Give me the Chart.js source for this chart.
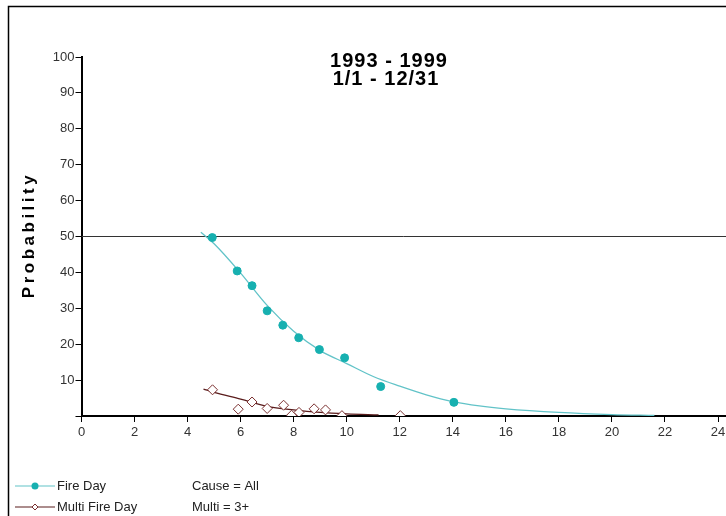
<!DOCTYPE html>
<html>
<head>
<meta charset="utf-8">
<script src="https://cdn.jsdelivr.net/npm/chart.js@4/dist/chart.umd.min.js"></script>
<style>
  html, body { margin: 0; padding: 0; background: #fff; overflow: hidden; }
  canvas { display: block; }
</style>
</head>
<body>
<canvas id="myChart" width="726" height="516"></canvas>
<script>
// observed points
const fireX = [4.93, 5.87, 6.43, 7.0, 7.59, 8.19, 8.97, 9.92, 11.28, 14.04];
const fireY = [49.7, 40.4, 36.3, 29.3, 25.3, 21.8, 18.5, 16.2, 8.2, 3.8];
const multiX = [4.94, 5.91, 6.43, 7.0, 7.62, 7.92, 8.2, 8.77, 9.2, 9.82, 12.02];
const multiY = [7.3, 1.9, 3.9, 2.1, 3.0, 0.2, 1.0, 2.0, 1.7, 0.1, 0.1];

// fitted curves
const fireFitX = [4.5, 5, 6, 7, 8, 9, 10, 11, 12, 13, 14, 15, 16, 18, 20, 21.6];
const fireFitY = [51.2, 48.0, 39.8, 30.8, 23.6, 18.2, 14.6, 11.0, 8.3, 5.9, 4.0, 2.8, 2.0, 1.0, 0.4, 0.15];
const multiFitX = [4.6, 5, 6, 7, 8, 9, 10, 11.2];
const multiFitY = [7.5, 6.6, 4.7, 2.7, 1.7, 1.0, 0.6, 0.3];

const refX = [0, 24.3];
const refY = [50, 50];

const xTicks = [0, 2, 4, 6, 8, 10, 12, 14, 16, 18, 20, 22, 24];
const yTicks = [0, 10, 20, 30, 40, 50, 60, 70, 80, 90, 100];

const titleLines = ['1993 - 1999', '1/1 - 12/31'];
const legendNames = ['Fire Day', 'Multi Fire Day'];
const legendNotes = ['Cause = All', 'Multi = 3+'];

const pts = (xs, ys) => xs.map((x, i) => ({ x: x, y: ys[i] }));

const FIRE = '#17b0b0';
const FIRE_LINE = '#62c3c8';
const MULTI = '#7a2f2f';
const MULTI_LINE = '#5a1c1c';
const FONT = "'Liberation Sans', Arial, sans-serif";

const extras = {
    id: 'extras',
    afterDraw(chart) {
        const ctx = chart.ctx;
        ctx.save();

        // frame
        ctx.strokeStyle = '#000';
        ctx.lineWidth = 1.5;
        ctx.beginPath();
        ctx.moveTo(8.5, 516);
        ctx.lineTo(8.5, 6.5);
        ctx.lineTo(726, 6.5);
        ctx.stroke();

        // title
        ctx.fillStyle = '#000';
        ctx.font = 'bold 20px ' + FONT;
        ctx.textAlign = 'center';
        ctx.textBaseline = 'middle';
        ctx.letterSpacing = '1px';
        ctx.fillText(titleLines[0], 389, 61);
        ctx.fillText(titleLines[1], 386, 79);

        // y title
        ctx.save();
        ctx.translate(29, 235);
        ctx.rotate(-Math.PI / 2);
        ctx.font = 'bold 17px ' + FONT;
        ctx.letterSpacing = '3.5px';
        ctx.fillText('Probability', 0, 0);
        ctx.restore();
        ctx.letterSpacing = '0px';

        // legend
        ctx.font = '13px ' + FONT;
        ctx.textAlign = 'left';
        const rows = [486, 507];
        const cols = [FIRE_LINE, MULTI_LINE];
        rows.forEach((y, i) => {
            ctx.strokeStyle = cols[i];
            ctx.lineWidth = 1.2;
            ctx.beginPath();
            ctx.moveTo(15, y);
            ctx.lineTo(55, y);
            ctx.stroke();
            if (i === 0) {
                ctx.fillStyle = FIRE;
                ctx.beginPath();
                ctx.arc(35, y, 3.5, 0, Math.PI * 2);
                ctx.fill();
            } else {
                ctx.fillStyle = '#fff';
                ctx.strokeStyle = MULTI;
                ctx.lineWidth = 1;
                ctx.beginPath();
                ctx.moveTo(35, y - 3);
                ctx.lineTo(38, y);
                ctx.lineTo(35, y + 3);
                ctx.lineTo(32, y);
                ctx.closePath();
                ctx.fill();
                ctx.stroke();
            }
            ctx.fillStyle = '#222';
            ctx.fillText(legendNames[i], 57, y);
            ctx.fillText(legendNotes[i], 192, y);
        });

        ctx.restore();
    }
};

const ctx = document.getElementById('myChart').getContext('2d');

new Chart(ctx, {
    type: 'scatter',
    data: {
        datasets: [
            {
                label: 'Fire Day',
                data: pts(fireX, fireY),
                backgroundColor: FIRE,
                borderColor: FIRE,
                pointRadius: 4,
                showLine: false,
                order: 0
            },
            {
                label: 'Multi Fire Day',
                data: pts(multiX, multiY),
                backgroundColor: '#fff',
                borderColor: MULTI,
                borderWidth: 1,
                pointStyle: 'rectRot',
                pointRadius: 5,
                showLine: false,
                order: 0
            },
            {
                label: 'Fire Day fit',
                data: pts(fireFitX, fireFitY),
                borderColor: FIRE_LINE,
                borderWidth: 1.3,
                pointRadius: 0,
                showLine: true,
                cubicInterpolationMode: 'monotone',
                order: 1
            },
            {
                label: 'Multi Fire Day fit',
                data: pts(multiFitX, multiFitY),
                borderColor: MULTI_LINE,
                borderWidth: 1.3,
                pointRadius: 0,
                showLine: true,
                cubicInterpolationMode: 'monotone',
                order: 1
            },
            {
                label: '50%',
                data: pts(refX, refY),
                borderColor: '#333',
                borderWidth: 1,
                pointRadius: 0,
                showLine: true,
                order: 2
            }
        ]
    },
    options: {
        responsive: false,
        animation: false,
        layout: {
            autoPadding: false, // otherwise the marker size eats 6px on the right
            padding: { left: 0, right: 0, top: 57, bottom: 70 }
        },
        scales: {
            x: {
                type: 'linear',
                min: 0,
                max: 24.3,
                afterBuildTicks: function(axis) {
                    axis.ticks = xTicks.map(v => ({ value: v }));
                },
                afterFit: function(axis) {
                    axis.height = 30;
                    axis.paddingLeft = 0;
                    axis.paddingRight = 0;
                },
                grid: {
                    drawOnChartArea: false,
                    color: '#000',
                    tickLength: 6
                },
                border: { color: '#000', width: 2 },
                ticks: {
                    color: '#333',
                    padding: 3,
                    maxRotation: 0,
                    autoSkip: false,
                    font: { family: FONT, size: 13 }
                }
            },
            y: {
                min: 0,
                max: 100,
                afterBuildTicks: function(axis) {
                    axis.ticks = yTicks.map(v => ({ value: v }));
                },
                afterFit: function(axis) {
                    axis.width = 81.5;
                    axis.paddingTop = 0;
                    axis.paddingBottom = 0;
                },
                grid: {
                    drawOnChartArea: false,
                    color: '#000',
                    tickLength: 6
                },
                border: { color: '#000', width: 2 },
                ticks: {
                    color: '#333',
                    padding: 1,
                    font: { family: FONT, size: 13 },
                    callback: function(v) {
                        return v === 0 ? '' : v;
                    }
                }
            }
        },
        plugins: {
            legend: { display: false },
            tooltip: { enabled: false }
        }
    },
    plugins: [extras]
});
</script>
</body>
</html>
